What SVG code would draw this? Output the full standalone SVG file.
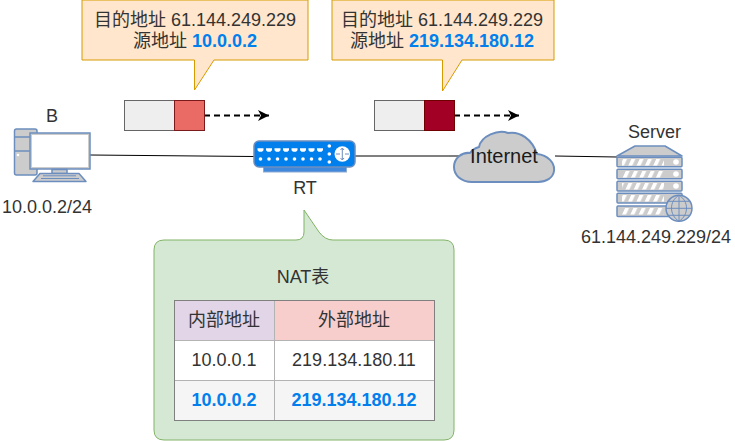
<svg xmlns="http://www.w3.org/2000/svg" width="735" height="441" viewBox="0 0 735 441">
<defs>
<marker id="arr" markerWidth="12" markerHeight="12" refX="11" refY="5.500" orient="auto" markerUnits="userSpaceOnUse"><path d="M0,0 L11,5.500 L0,11 L3,5.500 Z" fill="#000"/></marker>
<pattern id="slots" width="8.300" height="12" patternUnits="userSpaceOnUse" patternTransform="skewX(-25)"><rect width="4" height="12" fill="#fff"/></pattern>
</defs>
<style>
text{font-family:"Liberation Sans","Noto Sans CJK SC",sans-serif;font-size:18px;fill:#333;text-anchor:middle}
.b{font-weight:bold;fill:#007fed}
.ic{fill:#ccc;stroke:#6c8ebf;stroke-width:1.500;stroke-linejoin:round}
.cell{stroke:#b3b3b3;stroke-width:1}
.wire{fill:none;stroke:#000;stroke-width:1}
.co{fill:#ffe6cc;stroke:#d79b00;stroke-width:1}
.dash{stroke:#000;stroke-width:2;stroke-dasharray:6 4;fill:none;marker-end:url(#arr)}
</style>
<rect width="735" height="441" fill="#fff"/>
<g id="connectors">
<path class="wire" d="M90,155 L254,156.500"/>
<path class="wire" d="M355,156 L462,156"/>
<path class="wire" d="M555,156 L617,157"/>
<path class="dash" d="M204,115.500 L269,115.500"/>
<path class="dash" d="M454,115.500 L519,115.500"/>
</g>
<g id="node-callout-1">
<path class="co" d="M82,0 L308,0 L308,60 L214,60 L194.500,90 L194.500,60 L82,60 Z"/>
<text x="195" y="26">目的地址 61.144.249.229</text>
<text x="195" y="47">源地址 <tspan class="b">10.0.0.2</tspan></text>
</g>
<g id="node-callout-2">
<path class="co" d="M332,0 L554,0 L554,60 L462,60 L442.500,91 L442.500,60 L332,60 Z"/>
<text x="442" y="26">目的地址 61.144.249.229</text>
<text x="442" y="47">源地址 <tspan class="b">219.134.180.12</tspan></text>
</g>
<g id="node-packet-1">
<rect x="124.500" y="100.500" width="50" height="30" fill="#eee" stroke="#666"/>
<rect x="174.500" y="100.500" width="30" height="30" fill="#ea6b66" stroke="#7a1a1a"/>
</g>
<g id="node-packet-2">
<rect x="374.500" y="100.500" width="50" height="30" fill="#eee" stroke="#666"/>
<rect x="424.500" y="100.500" width="30" height="30" fill="#a20025" stroke="#6f0000"/>
</g>
<g id="node-B">
<text x="52" y="122">B</text>
<path class="ic" d="M14.500,131 Q14.500,129 16.500,129 L35,129 Q37,129 37,131 L37,173 Q37,175 35,175 L16.500,175 Q14.500,175 14.500,173 Z"/>
<path d="M14.500,137 H30 M14.500,151 H30" stroke="#6c8ebf" stroke-width="1.500" fill="none"/>
<circle cx="18" cy="155" r="1.300" fill="#fff"/>
<rect x="30" y="133" width="60" height="36" fill="#ccc" stroke="#6c8ebf" stroke-width="1.500"/>
<rect x="32" y="135" width="56" height="32" fill="#fff"/>
<rect x="52" y="169.500" width="15" height="4" class="ic"/>
<path class="ic" d="M40,173.500 L79,173.500 L86,181.500 L33,181.500 Z"/>
<path d="M43,175.800 H76 M41,178.500 H79" stroke="#6c8ebf" stroke-width="1"/>
<text x="47" y="213">10.0.0.2/24</text>
</g>
<g id="node-RT">
<rect x="263.500" y="164" width="83" height="8" fill="#3f88dc" stroke="#8fa9cf"/>
<rect x="254" y="141" width="101" height="26" rx="5" fill="#007fed" stroke="#6c8ebf" stroke-width="1.500"/>
<g fill="#fff">
<path d="M257.500,148.300 h6 v2 l-1.500,1.500 h-3 l-1.500,-1.500z M266,148.300 h6 v2 l-1.500,1.500 h-3 l-1.500,-1.500z M274.500,148.300 h6 v2 l-1.500,1.500 h-3 l-1.500,-1.500z M283,148.300 h6 v2 l-1.500,1.500 h-3 l-1.500,-1.500z M291.500,148.300 h6 v2 l-1.500,1.500 h-3 l-1.500,-1.500z M300,148.300 h6 v2 l-1.500,1.500 h-3 l-1.500,-1.500z M308.500,148.300 h6 v2 l-1.500,1.500 h-3 l-1.500,-1.500z M317,148.300 h6 v2 l-1.500,1.500 h-3 l-1.500,-1.500z"/>
<circle cx="260.500" cy="159" r="1.800"/><circle cx="269" cy="159" r="1.800"/><circle cx="277.500" cy="159" r="1.800"/><circle cx="286" cy="159" r="1.800"/><circle cx="294.500" cy="159" r="1.800"/><circle cx="303" cy="159" r="1.800"/><circle cx="311.500" cy="159" r="1.800"/><circle cx="320" cy="159" r="1.800"/>
<circle cx="329.300" cy="146" r="1.800"/><circle cx="329.300" cy="154" r="1.800"/><circle cx="329.300" cy="162" r="1.800"/>
<circle cx="342.300" cy="154" r="7.800"/>
</g>
<path d="M342.300,148 V160 M336,154 H340 M345,154 H349 M340.500,150 L342.300,148 L344,150 M340.500,158 L342.300,160 L344,158" stroke="#6c8ebf" stroke-width="1" fill="none"/>
<text x="305" y="194">RT</text>
</g>
<g id="node-Internet">
<path class="ic" style="stroke-width:2" d="M479,147 C481,136 498,129 508,133 C520,131 532,139 537,154 C548,155 555,163 554,171 C553,178 546,182 538,182 L472,182 C461,182 454,175 454,167 C454,158 462,152 470,153 C472,150 475,148 479,147 Z"/>
<text x="504" y="163" style="font-size:20px;fill:#1a1a1a">Internet</text>
</g>
<g id="node-Server">
<text x="654.500" y="138">Server</text>
<path class="ic" d="M617,156 L635,146 L665,146 L682,156 Z"/>
<rect class="ic" x="617" y="157.300" width="65" height="9.500" rx="1"/>
<rect class="ic" x="617" y="169.300" width="65" height="9.500" rx="1"/>
<rect class="ic" x="617" y="181.300" width="65" height="9.700" rx="1"/>
<rect class="ic" x="617" y="193.300" width="65" height="9.700" rx="1"/>
<rect class="ic" x="617" y="206" width="65" height="10.500" rx="1"/>
<g fill="url(#slots)">
<rect x="622" y="159" width="42" height="6.500"/>
<rect x="622" y="171" width="42" height="6.500"/>
<rect x="622" y="183" width="42" height="6.500"/>
<rect x="622" y="195" width="42" height="6.500"/>
<rect x="622" y="208" width="42" height="6.500"/>
</g>
<g fill="#fff"><circle cx="676" cy="162" r="2.800"/><circle cx="676" cy="174" r="2.800"/><circle cx="676" cy="186" r="2.800"/></g>
<circle cx="679" cy="208.300" r="13" fill="#ccc" stroke="#6c8ebf" stroke-width="1.500"/>
<path d="M666,208.300 H692 M668,201.300 H690 M668,215.300 H690 M679,195.300 V221.300 M679,195.300 C669,201 669,215 679,221.300 M679,195.300 C689,201 689,215 679,221.300" fill="none" stroke="#6c8ebf" stroke-width="1"/>
<text x="656" y="243">61.144.249.229/24</text>
</g>
<g id="node-NAT">
<path d="M166,240 L296,240 Q304,240 304,232 L304,210 L319,232 Q325,240 333,240 L444,240 Q454,240 454,250 L454,430 Q454,440 444,440 L164,440 Q154,440 154,430 L154,250 Q154,240 164,240 Z" fill="#d5e8d4" stroke="#82b366"/>
<text x="303" y="283">NAT表</text>
<rect class="cell" x="174.500" y="300.500" width="100" height="40" fill="#e1d5e7"/>
<rect class="cell" x="274.500" y="300.500" width="160" height="40" fill="#f8cecc"/>
<rect class="cell" x="174.500" y="340.500" width="100" height="40" fill="#fff"/>
<rect class="cell" x="274.500" y="340.500" width="160" height="40" fill="#fff"/>
<rect class="cell" x="174.500" y="380.500" width="100" height="40" fill="#f5f5f5"/>
<rect class="cell" x="274.500" y="380.500" width="160" height="40" fill="#f5f5f5"/>
<rect x="174.500" y="300.500" width="260" height="120" fill="none" stroke="#808080"/>
<text x="224" y="326">内部地址</text>
<text x="354" y="326">外部地址</text>
<text x="224" y="366">10.0.0.1</text>
<text x="354" y="366">219.134.180.11</text>
<text x="224" y="406" class="b">10.0.0.2</text>
<text x="354" y="406" class="b">219.134.180.12</text>
</g>
</svg>
